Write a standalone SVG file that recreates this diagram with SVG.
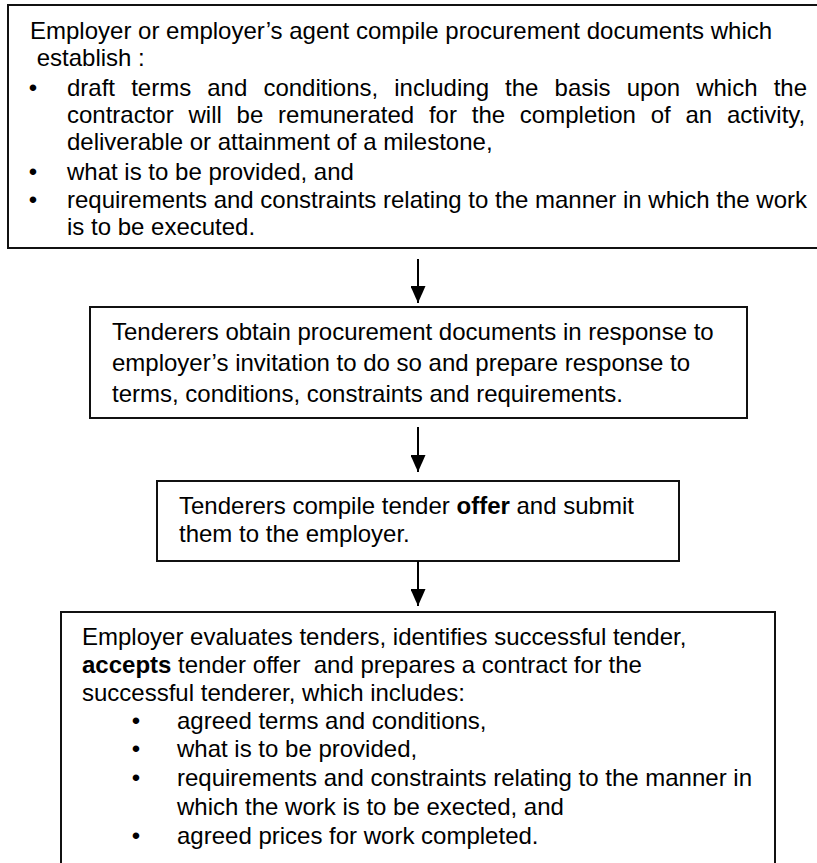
<svg xmlns="http://www.w3.org/2000/svg" width="817" height="863" viewBox="0 0 817 863">
<style>
  .box { fill: #fff; stroke: #111; stroke-width: 2; }
  text { font-family: "Liberation Sans", Arial, sans-serif; font-size: 24px; fill: #000; }
  .b { font-weight: bold; }
  .conn line { stroke: #000; stroke-width: 2; }
</style>
<defs>
  <marker id="ah" viewBox="0 0 17 15" refX="17" refY="7.5" markerWidth="17" markerHeight="15" markerUnits="userSpaceOnUse" orient="auto">
    <path d="M0,0 L17,7.5 L0,15 Z" fill="#000"/>
  </marker>
</defs>
<rect width="817" height="863" fill="#fff"/>

<g id="node-procurement-documents">
  <rect class="box" x="8" y="5" width="830" height="243"/>
  <text x="30" y="39">Employer or employer’s agent compile procurement documents which</text>
  <text x="36.7" y="66">establish :</text>
  <text x="28.8" y="96">•</text>
  <text y="96"><tspan x="67">draft</tspan><tspan x="131.14">terms</tspan><tspan x="207.26">and</tspan><tspan x="263.41">conditions,</tspan><tspan x="394.25">including</tspan><tspan x="505.07">the</tspan><tspan x="554.55">basis</tspan><tspan x="626.69">upon</tspan><tspan x="696.19">which</tspan><tspan x="773.65">the</tspan></text>
  <text y="123"><tspan x="67">contractor</tspan><tspan x="188.49">will</tspan><tspan x="236.59">be</tspan><tspan x="278.07">remunerated</tspan><tspan x="428.92">for</tspan><tspan x="471.72">the</tspan><tspan x="519.87">completion</tspan><tspan x="650.70">of</tspan><tspan x="685.51">an</tspan><tspan x="726.99">activity,</tspan></text>
  <text x="67" y="150">deliverable or attainment of a milestone,</text>
  <text x="28.8" y="180">•</text>
  <text x="67" y="180">what is to be provided, and</text>
  <text x="28.8" y="208">•</text>
  <text x="67" y="208" textLength="740" lengthAdjust="spacing">requirements and constraints relating to the manner in which the work</text>
  <text x="67" y="235">is to be executed.</text>
</g>

<g id="node-tenderers-obtain">
  <rect class="box" x="90" y="307" width="657" height="111"/>
  <text x="112" y="340">Tenderers obtain procurement documents in response to</text>
  <text x="112" y="371">employer’s invitation to do so and prepare response to</text>
  <text x="112" y="402">terms, conditions, constraints and requirements.</text>
</g>

<g id="node-tenderers-compile">
  <rect class="box" x="157" y="481" width="522" height="80"/>
  <text x="179" y="514">Tenderers compile tender <tspan class="b">offer</tspan> and submit</text>
  <text x="179" y="542">them to the employer.</text>
</g>

<g id="node-employer-evaluates">
  <rect class="box" x="61" y="612" width="714" height="270"/>
  <text x="82" y="645">Employer evaluates tenders, identifies successful tender,</text>
  <text x="82" y="673" xml:space="preserve"><tspan class="b">accepts</tspan> tender offer  and prepares a contract for the</text>
  <text x="82" y="701">successful tenderer, which includes:</text>
  <text x="131.8" y="729">•</text>
  <text x="177" y="729">agreed terms and conditions,</text>
  <text x="131.8" y="757">•</text>
  <text x="177" y="757">what is to be provided,</text>
  <text x="131.8" y="786">•</text>
  <text x="177" y="786">requirements and constraints relating to the manner in</text>
  <text x="177" y="815">which the work is to be exected, and</text>
  <text x="131.8" y="844">•</text>
  <text x="177" y="844">agreed prices for work completed.</text>
</g>

<g id="connectors" class="conn">
  <line x1="418" y1="259" x2="418" y2="303" marker-end="url(#ah)"/>
  <line x1="418" y1="427" x2="418" y2="472" marker-end="url(#ah)"/>
  <line x1="418" y1="561" x2="418" y2="606" marker-end="url(#ah)"/>
</g>
</svg>
